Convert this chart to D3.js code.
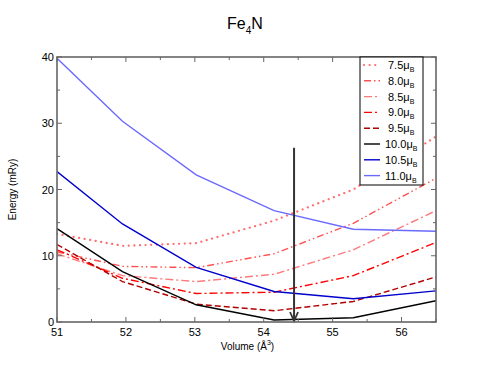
<!DOCTYPE html>
<html>
<head>
<meta charset="utf-8">
<script src="https://cdn.jsdelivr.net/npm/d3@7"></script>
<style>
  body { margin: 0; background: #fff; }
  text { font-family: "Liberation Sans", Arial, sans-serif; }
</style>
</head>
<body>
<svg id="chart"></svg>
<script>
const volumes = [51.0, 51.95, 53.02, 54.15, 55.3, 56.5]
const moments = ['7.5', '8.0', '8.5', '9.0', '9.5', '10.0', '10.5', '11.0']
const e75 = [13.3, 11.5, 11.9, 15.3, 20.0, 28.0]
const e80 = [10.6, 8.4, 8.2, 10.3, 14.9, 21.7]
const e85 = [10.3, 7.0, 6.1, 7.2, 10.9, 16.8]
const e90 = [10.9, 6.6, 4.3, 4.5, 7.0, 12.0]
const e95 = [11.7, 6.1, 2.7, 1.7, 3.1, 6.8]
const e100 = [14.1, 7.6, 2.6, 0.3, 0.65, 3.2]
const e105 = [22.7, 14.8, 8.25, 4.6, 3.5, 4.7]
const e110 = [39.8, 30.3, 22.2, 16.8, 14.0, 13.7]
const xTicks = [51, 52, 53, 54, 55, 56]
const yTicks = [0, 10, 20, 30, 40]
const arrowVolume = 54.44
const arrowTop = 26.3

const energies = [e75, e80, e85, e90, e95, e100, e105, e110]
const colors = ['#ff6e6e', '#ff5050', '#ff7a7a', '#ff0000', '#b00000', '#000000', '#0000cc', '#6a6aff']
const dashes = ['0.1,5.5', '7,3,1.5,3,1.5,3', '8,3,2,3', '8,3,2,3', '6,3', null, null, null]
const widths = [2.2, 1.4, 1.4, 1.4, 1.4, 1.4, 1.4, 1.4]

const width = 491, height = 379
const margin = { top: 57, right: 55, bottom: 57, left: 57 }
const innerW = width - margin.left - margin.right
const innerH = height - margin.top - margin.bottom

const svg = d3.select('#chart').attr('width', width).attr('height', height)
const chart = svg.append('g').attr('transform', `translate(${margin.left}, ${margin.top})`)

const xScale = d3.scaleLinear().domain([51, 56.5]).range([0, innerW])
const yScale = d3.scaleLinear().domain([0, 40]).range([innerH, 0])

svg.append('defs').append('clipPath').attr('id', 'clip')
    .append('rect').attr('width', innerW).attr('height', innerH)

// curves
const line = d3.line().x((d, i) => xScale(volumes[i])).y(d => yScale(d))
chart.append('g').attr('clip-path', 'url(#clip)')
    .selectAll('.curve')
    .data(energies)
    .join('path')
        .attr('class', 'curve')
        .attr('fill', 'none')
        .attr('stroke', (d, i) => colors[i])
        .attr('stroke-width', (d, i) => widths[i])
        .attr('stroke-linecap', (d, i) => i === 0 ? 'round' : 'butt')
        .attr('stroke-dasharray', (d, i) => dashes[i])
        .attr('d', line)

// arrow
const ax = xScale(arrowVolume)
chart.append('line')
    .attr('x1', ax).attr('x2', ax)
    .attr('y1', yScale(arrowTop)).attr('y2', innerH - 1)
    .attr('stroke', '#333').attr('stroke-width', 2)
chart.append('path')
    .attr('d', `M${ax - 4},${innerH - 10} L${ax},${innerH - 1} L${ax + 4},${innerH - 10}`)
    .attr('fill', 'none').attr('stroke', '#333').attr('stroke-width', 1.8)

// axes with inward ticks on all four sides
const xMinor = d3.range(51, 56.51, 0.5)
const yMinor = d3.range(0, 40.1, 5)
const tickColor = '#666'
const axisG = chart.append('g').attr('stroke', tickColor).attr('stroke-width', 1)
xMinor.forEach(v => {
    const len = Number.isInteger(v) ? 5 : 3
    const x = xScale(v)
    axisG.append('line').attr('x1', x).attr('x2', x).attr('y1', innerH).attr('y2', innerH - len)
    axisG.append('line').attr('x1', x).attr('x2', x).attr('y1', 0).attr('y2', len)
})
yMinor.forEach(v => {
    const len = v % 10 === 0 ? 5 : 3
    const y = yScale(v)
    axisG.append('line').attr('x1', 0).attr('x2', len).attr('y1', y).attr('y2', y)
    axisG.append('line').attr('x1', innerW).attr('x2', innerW - len).attr('y1', y).attr('y2', y)
})
chart.append('rect')
    .attr('width', innerW).attr('height', innerH)
    .attr('fill', 'none').attr('stroke', tickColor).attr('stroke-width', 1.6)

chart.selectAll('.xlabel')
    .data(xTicks)
    .join('text')
        .attr('class', 'xlabel')
        .attr('x', d => xScale(d))
        .attr('y', innerH + 14)
        .attr('text-anchor', 'middle')
        .attr('font-size', 11)
        .text(d => d)

chart.selectAll('.ylabel')
    .data(yTicks)
    .join('text')
        .attr('class', 'ylabel')
        .attr('x', -3)
        .attr('y', d => yScale(d) + 4)
        .attr('text-anchor', 'end')
        .attr('font-size', 11)
        .text(d => d)

// titles
const title = svg.append('text')
    .attr('x', 245).attr('y', 29)
    .attr('text-anchor', 'middle')
    .attr('font-size', 16)
title.append('tspan').text('Fe')
title.append('tspan').attr('font-size', 10).attr('dy', 5).text('4')
title.append('tspan').attr('dy', -5).text('N')

const xLab = svg.append('text')
    .attr('x', margin.left + innerW / 2 + 1).attr('y', 350)
    .attr('text-anchor', 'middle')
    .attr('font-size', 10)
xLab.append('tspan').text('Volume (Å')
xLab.append('tspan').attr('font-size', 7).attr('dy', -5).text('3')
xLab.append('tspan').attr('dy', 5).text(')')

svg.append('text')
    .attr('transform', `translate(16, ${margin.top + innerH / 2}) rotate(-90)`)
    .attr('text-anchor', 'middle')
    .attr('font-size', 10)
    .text('Energy (mRy)')

// legend
const legend = svg.append('g').attr('transform', 'translate(360, 57)')
legend.append('rect')
    .attr('width', 63).attr('height', 128)
    .attr('fill', '#fff').attr('stroke', '#000').attr('stroke-width', 1)
const rows = legend.selectAll('.row')
    .data(moments)
    .join('g')
        .attr('class', 'row')
        .attr('transform', (d, i) => `translate(0, ${8 + i * 15.8})`)
rows.append('line')
    .attr('x1', 4).attr('x2', 20).attr('y1', 0).attr('y2', 0)
    .attr('stroke', (d, i) => colors[i])
    .attr('stroke-width', (d, i) => widths[i])
    .attr('stroke-linecap', (d, i) => i === 0 ? 'round' : 'butt')
    .attr('stroke-dasharray', (d, i) => dashes[i])
const lt = rows.append('text')
    .attr('x', d => d.length > 3 ? 25 : 28)
    .attr('y', 4)
    .attr('font-size', 11)
lt.append('tspan').text(d => d + 'μ')
lt.append('tspan').attr('font-size', 7).attr('dy', 3).text('B')
</script>
</body>
</html>
